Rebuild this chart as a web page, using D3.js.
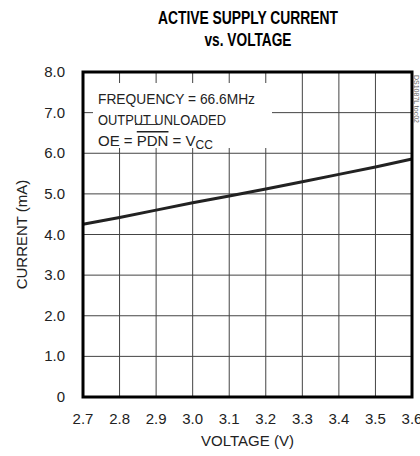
<!DOCTYPE html>
<html>
<head>
<meta charset="utf-8">
<script src="https://cdn.jsdelivr.net/npm/d3@7"></script>
<style>
  body { margin: 0; background: #fff; }
  text { font-family: "Liberation Sans Narrow", "Liberation Sans", "DejaVu Sans Condensed", sans-serif; fill: #222; }
</style>
</head>
<body>
<script>
// supply current vs voltage
var voltage = [2.7, 2.8, 2.9, 3.0, 3.1, 3.2, 3.3, 3.4, 3.5, 3.6];
var current = [4.25, 4.42, 4.60, 4.78, 4.95, 5.12, 5.30, 5.48, 5.66, 5.86];

var xTicks = [2.7, 2.8, 2.9, 3.0, 3.1, 3.2, 3.3, 3.4, 3.5, 3.6];
var yTicks = [0, 1, 2, 3, 4, 5, 6, 7, 8];

var W = 420, H = 456;
// plot frame (window.top is reserved, so plotTop etc.)
var plotLeft = 83, plotRight = 412, plotTop = 72, plotBottom = 397;

var svg = d3.select('body')
  .append('svg')
  .attr('width', W)
  .attr('height', H);

var x = d3.scaleLinear().domain([2.7, 3.6]).range([plotLeft, plotRight]);
var y = d3.scaleLinear().domain([0, 8]).range([plotBottom, plotTop]);

// grid
svg.selectAll('.vgrid')
  .data(xTicks)
  .enter()
  .append('line')
  .attr('x1', function (d) { return x(d); })
  .attr('x2', function (d) { return x(d); })
  .attr('y1', plotTop)
  .attr('y2', plotBottom)
  .style('stroke', '#444')
  .style('stroke-width', 1);

svg.selectAll('.hgrid')
  .data(yTicks)
  .enter()
  .append('line')
  .attr('x1', plotLeft)
  .attr('x2', plotRight)
  .attr('y1', function (d) { return y(d); })
  .attr('y2', function (d) { return y(d); })
  .style('stroke', '#444')
  .style('stroke-width', 1);

// note box covers the grid
svg.append('rect')
  .attr('x', 93).attr('y', 83)
  .attr('width', 179).attr('height', 65)
  .style('fill', '#fff');

var note = svg.append('g').style('font-size', '15px');
note.append('text').attr('x', 98).attr('y', 104)
  .attr('textLength', 157).attr('lengthAdjust', 'spacingAndGlyphs')
  .text('FREQUENCY = 66.6MHz');
note.append('text').attr('x', 98).attr('y', 125)
  .attr('textLength', 128).attr('lengthAdjust', 'spacingAndGlyphs')
  .text('OUTPUT UNLOADED');
svg.append('line')
  .attr('x1', 135).attr('x2', 159).attr('y1', 124.5).attr('y2', 124.5)
  .style('stroke', '#333').style('stroke-width', 1);
var oe = note.append('text').attr('x', 98).attr('y', 146);
oe.append('tspan').text('OE = ');
oe.append('tspan').style('text-decoration', 'overline').text('PDN');
oe.append('tspan').text(' = V');
oe.append('tspan').attr('dy', 3).style('font-size', '12px').text('CC');

// data line
var line = d3.line()
  .x(function (d, i) { return x(voltage[i]); })
  .y(function (d) { return y(d); });

svg.append('path')
  .datum(current)
  .attr('d', line)
  .style('fill', 'none')
  .style('stroke', '#222')
  .style('stroke-width', 3);

// frame
svg.append('rect')
  .attr('x', plotLeft).attr('y', plotTop)
  .attr('width', plotRight - plotLeft).attr('height', plotBottom - plotTop)
  .style('fill', 'none')
  .style('stroke', '#000')
  .style('stroke-width', 3);

// axes labels
svg.selectAll('.xlab')
  .data(xTicks)
  .enter()
  .append('text')
  .attr('x', function (d) { return x(d); })
  .attr('y', 424)
  .attr('text-anchor', 'middle')
  .style('font-size', '15px')
  .text(function (d) { return d.toFixed(1); });

svg.selectAll('.ylab')
  .data(yTicks)
  .enter()
  .append('text')
  .attr('x', 65)
  .attr('y', function (d) { return y(d) + 5; })
  .attr('text-anchor', 'end')
  .style('font-size', '15px')
  .text(function (d) { return d === 0 ? '0' : d.toFixed(1); });

svg.append('text')
  .attr('x', (plotLeft + plotRight) / 2).attr('y', 446)
  .attr('text-anchor', 'middle')
  .style('font-size', '15px')
  .text('VOLTAGE (V)');

svg.append('text')
  .attr('transform', 'translate(27,' + (plotTop + plotBottom) / 2 + ') rotate(-90)')
  .attr('text-anchor', 'middle')
  .style('font-size', '15px')
  .text('CURRENT (mA)');

// title
var title = svg.append('g')
  .style('font-size', '18px')
  .style('font-weight', 'bold');
title.append('text')
  .attr('x', 248).attr('y', 24)
  .attr('text-anchor', 'middle')
  .attr('textLength', 180).attr('lengthAdjust', 'spacingAndGlyphs')
  .style('fill', '#000')
  .text('ACTIVE SUPPLY CURRENT');
title.append('text')
  .attr('x', 248).attr('y', 46)
  .attr('text-anchor', 'middle')
  .attr('textLength', 87).attr('lengthAdjust', 'spacingAndGlyphs')
  .style('fill', '#000')
  .text('vs. VOLTAGE');

// figure id along right edge
svg.append('text')
  .attr('transform', 'translate(414,75) rotate(90)')
  .style('font-size', '7px')
  .style('fill', '#666')
  .text('DS1087L toc02');
</script>
</body>
</html>
